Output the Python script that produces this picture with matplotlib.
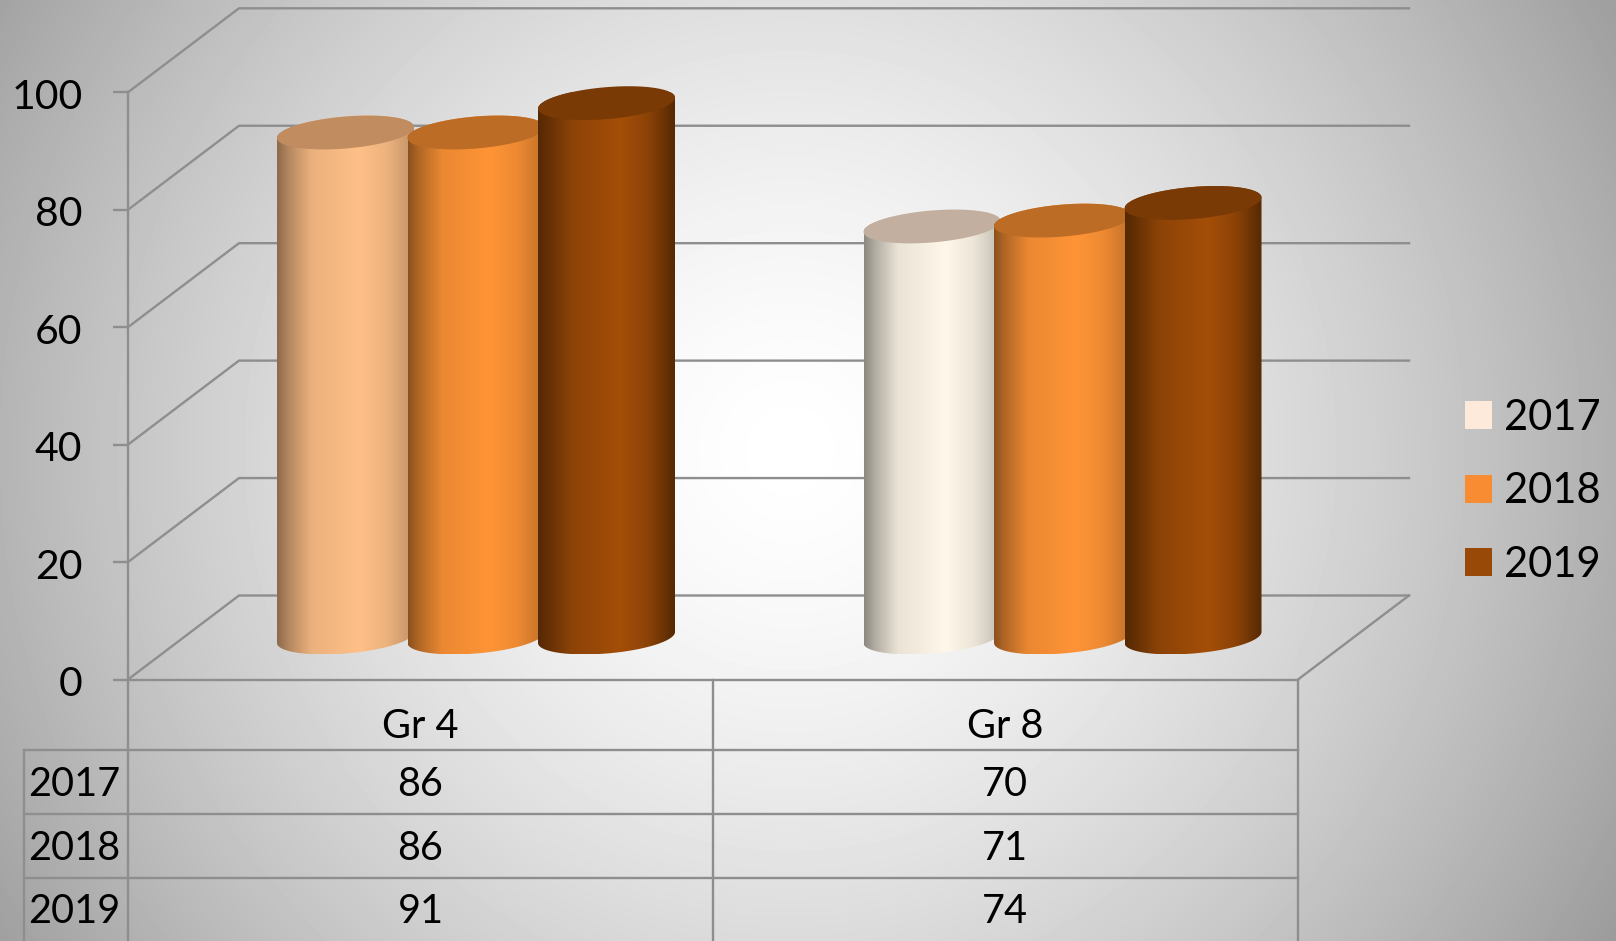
import numpy as np
import matplotlib
matplotlib.use('Agg')
import matplotlib.pyplot as plt
from matplotlib.patches import Patch, Polygon
from matplotlib.path import Path
from matplotlib.colors import to_rgb
from matplotlib.transforms import ScaledTranslation

grades = ['Gr 4', 'Gr 8']
years = ['2017', '2018', '2019']
values_2017 = [86, 70]
values_2018 = [86, 71]
values_2019 = [91, 74]
y_ticks = [0, 20, 40, 60, 80, 100]

legend_colors = ['#FDEADA', '#F88C33', '#984807']
# the 2017 Gr 4 point has its own colour in the original
cylinder_colors = [['#FFC088', '#FF9436', '#A44E08'],
                   ['#FFF7E9', '#FF9436', '#A44E08']]
top_colors = [['#C08C60', '#BC6C24', '#7A3A06'],
              ['#C3AFA0', '#BC6C24', '#7A3A06']]
line_color = '#8E8E8E'

W, H = 1616, 941
plt.rcParams['font.family'] = ['Lato', 'DejaVu Sans']

fig = plt.figure(figsize=(W / 100, H / 100), dpi=100)

# background
bg = fig.add_axes([0, 0, 1, 1], zorder=0)
yy, xx = np.mgrid[0:H, 0:W]
r = np.hypot(xx - 790, yy - 450) / 800
shade = (255 - 76 * r ** 1.5) / 255
bg.imshow(shade, cmap='gray', vmin=0, vmax=1, aspect='auto', extent=[0, W, H, 0])
bg.set_xlim(0, W)
bg.set_ylim(H, 0)
bg.axis('off')

# main axes is the front plane of the 3d box
x0, x1, y_zero, y_hundred = 128, 1298, 679.5, 92.3
ax = fig.add_axes([x0 / W, (H - y_zero) / H, (x1 - x0) / W, (y_zero - y_hundred) / H], zorder=1)
ax.patch.set_visible(False)
ax.set_xlim(0, 2)
ax.set_ylim(0, 100)
for side in ['top', 'right']:
    ax.spines[side].set_visible(False)
for side in ['left', 'bottom']:
    ax.spines[side].set_color(line_color)
    ax.spines[side].set_linewidth(1.7)
ax.set_xticks([])
ax.set_yticks(y_ticks)
ax.tick_params(axis='y', length=10.8, width=1.7, color=line_color, pad=22, labelsize=29.5)
for lab in ax.get_yticklabels():
    lab.set_transform(lab.get_transform() + ScaledTranslation(0, -1.5 / 100, fig.dpi_scale_trans))

depth_x = 111 / 585
depth_y = 84 / 5.872

for v in y_ticks:
    ax.plot([0, depth_x, 2 + depth_x], [v, v + depth_y, v + depth_y],
            color=line_color, lw=1.7, clip_on=False, zorder=1)
ax.plot([2, 2 + depth_x], [0, depth_y], color=line_color, lw=1.7, clip_on=False, zorder=1)

# cylinders
bar_w = 137 / 585
bar_step = 130.5 / 585
group_step = 586.5 / 585
ell_b = 16 / 5.872
ell_k = 5.5 / 5.872
stops = [0, 0.08, 0.25, 0.6, 0.8, 1]
profile = [0.55, 0.70, 0.92, 1.0, 0.93, 0.76]
profile_dark = [0.52, 0.62, 0.86, 1.0, 0.86, 0.52]


def ellipse(cx, cy, t):
    return (cx + bar_w / 2 * np.cos(t), cy + ell_k * np.cos(t) + ell_b * np.sin(t))


def draw_cylinder(cx, value, color, top_color, prof):
    base = depth_y / 2
    top = base + value
    xb, yb = ellipse(cx, base, np.linspace(np.pi, 2 * np.pi, 60))
    xt, yt = ellipse(cx, top, np.linspace(0, np.pi, 60))
    body = Path(np.column_stack([np.r_[xb, xt], np.r_[yb, yt]]))

    u = np.linspace(0, 1, 200)
    f = np.interp(u, stops, prof)
    grad = (np.outer(f, to_rgb(color)))[np.newaxis, :, :]
    im = ax.imshow(grad, aspect='auto', interpolation='bilinear', zorder=2,
                   extent=[cx - bar_w / 2, cx + bar_w / 2, yb.min(), yt.max() + 1])
    im.set_clip_path(body, transform=ax.transData)

    xe, ye = ellipse(cx, top, np.linspace(0, 2 * np.pi, 120))
    ax.add_patch(Polygon(np.column_stack([xe, ye]), closed=True, facecolor=top_color,
                         edgecolor='none', zorder=2, clip_on=False))


series = [values_2017, values_2018, values_2019]
for g in range(len(grades)):
    center = g * group_step + 0.5 + depth_x / 2
    for s, vals in enumerate(series):
        prof = profile_dark if s == 2 else profile
        draw_cylinder(center + (s - 1) * bar_step, vals[g], cylinder_colors[g][s],
                      top_colors[g][s], prof)

ax.set_xlim(0, 2)
ax.set_ylim(0, 100)

# data table under the plot, pixel layout
tb = fig.add_axes([0, 0, 1, 1], zorder=2)
tb.patch.set_visible(False)
tb.set_xlim(0, W)
tb.set_ylim(H, 0)
tb.axis('off')

row_lines = [750, 814, 878]
col_lines = [128, 713, 1298]
for y in row_lines:
    tb.plot([24, 1298], [y, y], color=line_color, lw=1.7)
for x in col_lines:
    tb.plot([x, x], [680, H], color=line_color, lw=1.7)
tb.plot([24, 24], [750, H], color=line_color, lw=1.7)

col_centers = [420.5, 1005]
table_size = 28.5
for x, g in zip(col_centers, grades):
    tb.text(x, 738, g, ha='center', va='baseline', fontsize=table_size)
row_base = [796, 860, 923]
for yb, year, vals in zip(row_base, years, series):
    tb.text(74.5, yb, year, ha='center', va='baseline', fontsize=table_size)
    for x, v in zip(col_centers, vals):
        tb.text(x, yb, str(v), ha='center', va='baseline', fontsize=table_size)

handles = [Patch(facecolor=c, edgecolor='none', label=y) for c, y in zip(legend_colors, years)]
fig.legend(handles=handles, loc='upper left', bbox_to_anchor=(1465 / W, 1 - 399 / H),
           frameon=False, fontsize=30, handlelength=0.65, handleheight=0.65,
           handletextpad=0.29, labelspacing=0.85, borderpad=0, borderaxespad=0)

fig.savefig('out.png', dpi=100)
